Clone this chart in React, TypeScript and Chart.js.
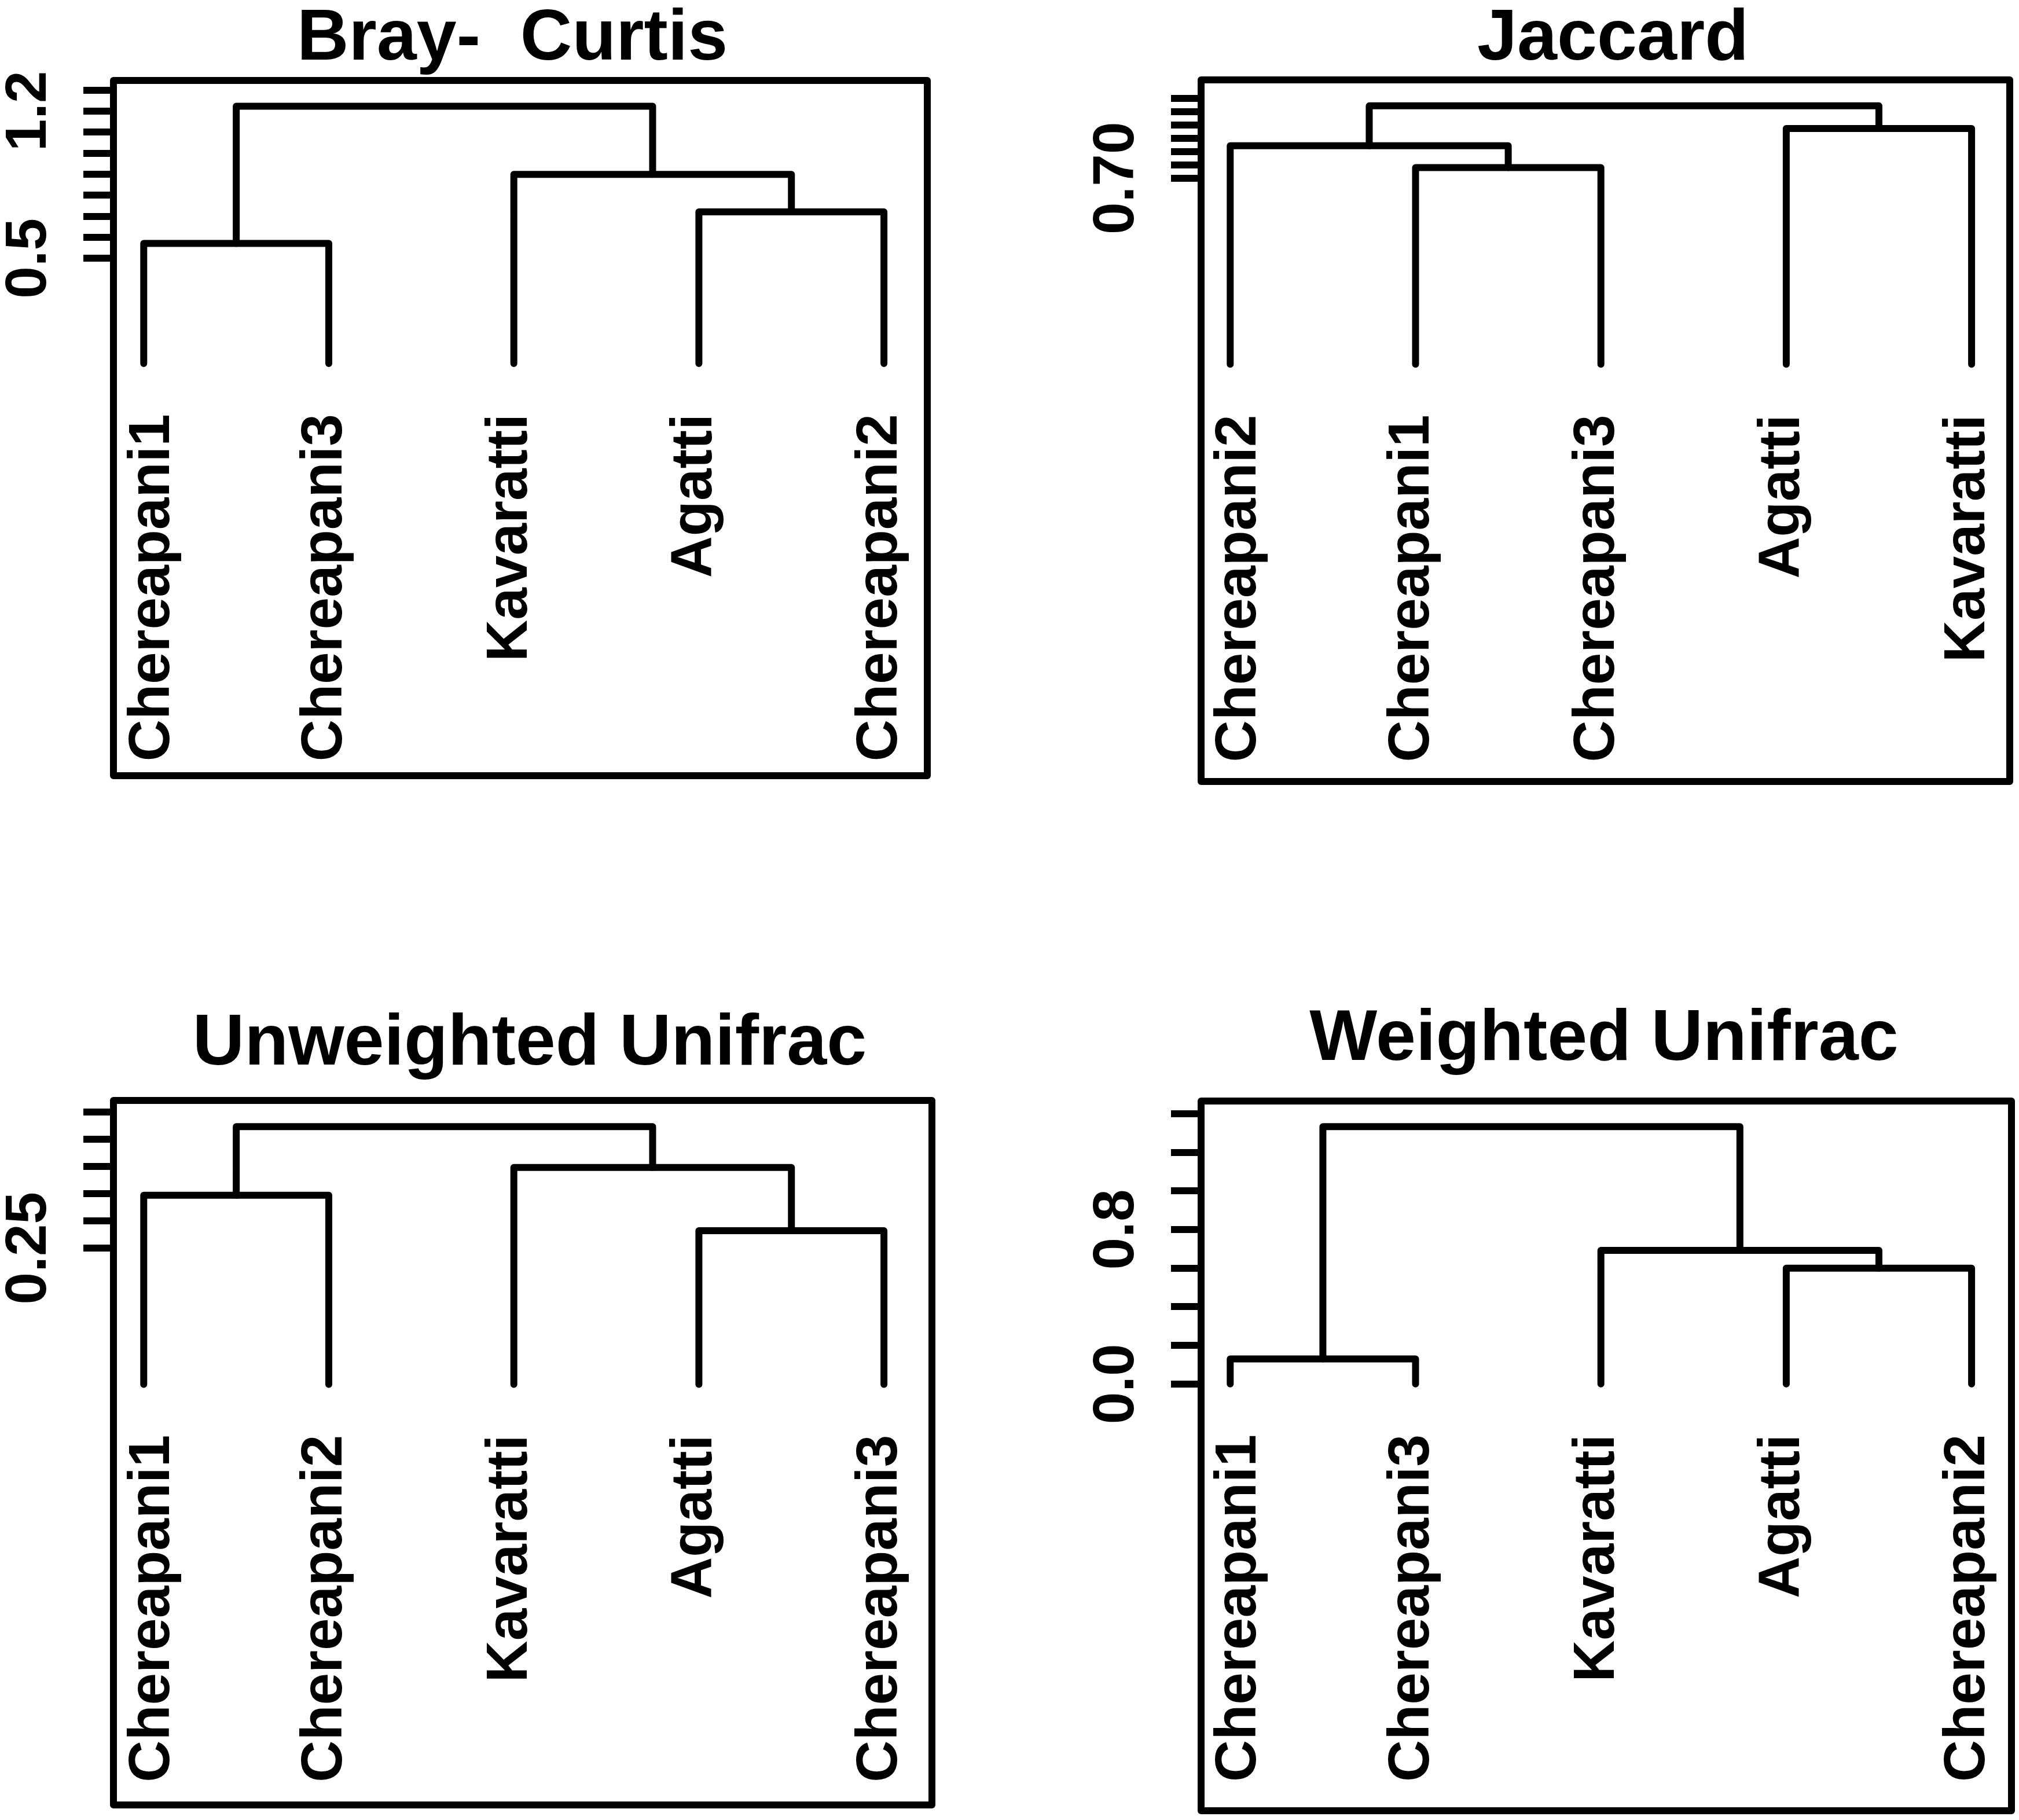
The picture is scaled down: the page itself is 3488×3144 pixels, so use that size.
import React, { useEffect, useRef } from "react";
import { Chart, registerables } from "chart.js";

Chart.register(...registerables);

// ---------------- data ----------------
// leaves in plotted order; merges: negative = leaf position (1-based), positive = earlier merge (1-based)
const bcLeaves = ["Chereapani1", "Chereapani3", "Kavaratti", "Agatti", "Chereapani2"];
const bcMerges = [[-1, -2], [-4, -5], [-3, 2], [1, 3]];
const bcHeights = [0.571, 0.721, 0.899, 1.223];
const bcTicks = [0.5, 0.6, 0.7, 0.8, 0.9, 1.0, 1.1, 1.2, 1.3];
const bcTickLabels = ["0.5", "", "", "", "", "", "", "1.2", ""];

const jcLeaves = ["Chereapani2", "Chereapani1", "Chereapani3", "Agatti", "Kavaratti"];
const jcMerges = [[-2, -3], [-1, 1], [-4, -5], [2, 3]];
const jcHeights = [0.74, 0.822, 0.887, 0.972];
const jcTicks = [0.7, 0.75, 0.8, 0.85, 0.9, 0.95, 1.0];
const jcTickLabels = ["0.70", "", "", "", "", "", ""];

const uuLeaves = ["Chereapani1", "Chereapani2", "Kavaratti", "Agatti", "Chereapani3"];
const uuMerges = [[-4, -5], [-1, -2], [-3, 1], [2, 3]];
const uuHeights = [0.282, 0.347, 0.398, 0.473];
const uuTicks = [0.25, 0.3, 0.35, 0.4, 0.45, 0.5];
const uuTickLabels = ["0.25", "", "", "", "", ""];

const wuLeaves = ["Chereapani1", "Chereapani3", "Kavaratti", "Agatti", "Chereapani2"];
const wuMerges = [[-1, -2], [-4, -5], [-3, 2], [1, 3]];
const wuHeights = [0.13, 0.6, 0.692, 1.333];
const wuTicks = [0.0, 0.2, 0.4, 0.6, 0.8, 1.0, 1.2, 1.4];
const wuTickLabels = ["0.0", "", "", "", "0.8", "", "", ""];

// ---------------- layout / style ----------------
const CELL_W = 1744;
const CELL_H = 1572;
const AXW = 60;
const LINE_W = 12;
const BOX_W = 12;
const TICK_LEN = 52;
const FONT = '"Liberation Sans", Arial, Helvetica, sans-serif';
const LABEL_PX = 100;
const TITLE_PX = 124;
const LABEL_DROP = 87; // label end below zero line
const LABEL_BASE = 22; // baseline offset right of leaf
const FIRST_SHIFT = 22;
const TICKLABEL_GAP = 117.5;

const PANELS = [
  {
    title: "Bray-  Curtis", leaves: bcLeaves, merges: bcMerges, heights: bcHeights,
    ticks: bcTicks, tickLabels: bcTickLabels,
    cellX: 0, cellY: 0, box: { l: 196, t: 139, r: 1602, b: 1340 },
    xr: [0.8364, 5.2343], yr: [-1.9586, 1.3454], titleDx: -14, titleBase: 103,
  },
  {
    title: "Jaccard", leaves: jcLeaves, merges: jcMerges, heights: jcHeights,
    ticks: jcTicks, tickLabels: jcTickLabels,
    cellX: 1744, cellY: 0, box: { l: 2075, t: 138, r: 3472, b: 1350 },
    xr: [0.8429, 5.2058], yr: [-1.5691, 1.0697], titleDx: 13, titleBase: 103,
  },
  {
    title: "Unweighted Unifrac", leaves: uuLeaves, merges: uuMerges, heights: uuHeights,
    ticks: uuTicks, tickLabels: uuTickLabels,
    cellX: 0, cellY: 1572, box: { l: 196, t: 1901, r: 1610, b: 3118 },
    xr: [0.8364, 5.2593], yr: [-0.7715, 0.521], titleDx: 12, titleBase: 1839,
  },
  {
    title: "Weighted Unifrac", leaves: wuLeaves, merges: wuMerges, heights: wuHeights,
    ticks: wuTicks, tickLabels: wuTickLabels,
    cellX: 1744, cellY: 1572, box: { l: 2075, t: 1902, r: 3475, b: 3128 },
    xr: [0.8429, 5.2152], yr: [-2.2105, 1.4657], titleDx: -4, titleBase: 1831,
  },
];

type Pt = { x: number; y: number };

function dendroSegments(merges: number[][], heights: number[]): Pt[][] {
  const nodes: Pt[] = [];
  const ref = (r: number): Pt => (r < 0 ? { x: -r, y: 0 } : nodes[r - 1]);
  return merges.map(([a, b], i) => {
    const A = ref(a);
    const B = ref(b);
    const h = heights[i];
    nodes[i] = { x: (A.x + B.x) / 2, y: h };
    return [
      { x: A.x, y: A.y },
      { x: A.x, y: h },
      { x: B.x, y: h },
      { x: B.x, y: B.y },
    ];
  });
}

function makeConfig(p: any): any {
  const segs = dendroSegments(p.merges, p.heights);
  const bl = p.box.l - p.cellX;
  const bt = p.box.t - p.cellY;
  const br = p.box.r - p.cellX;
  const bb = p.box.b - p.cellY;

  const decor = {
    id: "dendroDecor",
    afterDraw(chart: any) {
      const ctx = chart.ctx;
      const area = chart.chartArea;
      const xs = chart.scales.x;
      const ys = chart.scales.y;
      ctx.save();
      // frame
      ctx.strokeStyle = "#000";
      ctx.lineWidth = BOX_W;
      ctx.lineJoin = "round";
      ctx.strokeRect(area.left, area.top, area.right - area.left, area.bottom - area.top);
      ctx.fillStyle = "#000";
      // title
      ctx.font = `bold ${TITLE_PX}px ${FONT}`;
      ctx.textAlign = "center";
      ctx.textBaseline = "alphabetic";
      ctx.fillText(p.title, (area.left + area.right) / 2 + p.titleDx, p.titleBase - p.cellY);
      // leaf labels
      ctx.font = `bold ${LABEL_PX}px ${FONT}`;
      const y0 = ys.getPixelForValue(0) + LABEL_DROP;
      p.leaves.forEach((lab: string, i: number) => {
        const px = xs.getPixelForValue(i + 1) + LABEL_BASE + (i === 0 ? FIRST_SHIFT : 0);
        ctx.save();
        ctx.translate(px, y0);
        ctx.rotate(-Math.PI / 2);
        ctx.textAlign = "right";
        ctx.textBaseline = "alphabetic";
        ctx.fillText(lab, 0, 0);
        ctx.restore();
      });
      // y tick labels
      p.ticks.forEach((v: number, i: number) => {
        const t = p.tickLabels[i];
        if (!t) return;
        const py = ys.getPixelForValue(v);
        ctx.save();
        ctx.translate(area.left - TICKLABEL_GAP, py);
        ctx.rotate(-Math.PI / 2);
        ctx.textAlign = "center";
        ctx.textBaseline = "alphabetic";
        ctx.fillText(t, 0, 0);
        ctx.restore();
      });
      ctx.restore();
    },
  };

  return {
    type: "line",
    data: {
      datasets: segs.map((s) => ({
        data: s,
        borderColor: "#000",
        borderWidth: LINE_W,
        pointRadius: 0,
        pointHoverRadius: 0,
        fill: false,
        tension: 0,
        borderCapStyle: "round",
        borderJoinStyle: "round",
      })),
    },
    options: {
      animation: false,
      responsive: false,
      maintainAspectRatio: false,
      events: [],
      layout: {
        padding: { left: bl - AXW, top: bt, right: CELL_W - br, bottom: CELL_H - bb },
      },
      plugins: {
        legend: { display: false },
        tooltip: { enabled: false },
        title: { display: false },
      },
      scales: {
        x: { type: "linear", display: false, min: p.xr[0], max: p.xr[1] },
        y: {
          type: "linear",
          min: p.yr[0],
          max: p.yr[1],
          afterBuildTicks: (s: any) => {
            s.ticks = p.ticks.map((v: number) => ({ value: v }));
          },
          afterFit: (s: any) => {
            s.width = AXW;
          },
          ticks: { display: false, autoSkip: false },
          grid: {
            display: true,
            drawOnChartArea: false,
            drawTicks: true,
            tickLength: TICK_LEN,
            lineWidth: LINE_W,
            color: "#000",
          },
          border: { display: false },
        },
      },
    },
    plugins: [decor],
  };
}

function DendroPanel({ panel }: { panel: any }) {
  const ref = useRef<HTMLCanvasElement>(null);
  useEffect(() => {
    const chart = new Chart(ref.current as HTMLCanvasElement, makeConfig(panel));
    return () => chart.destroy();
  }, [panel]);
  return (
    <canvas
      ref={ref}
      width={CELL_W}
      height={CELL_H}
      style={{ position: "absolute", left: panel.cellX, top: panel.cellY, width: CELL_W, height: CELL_H }}
    />
  );
}

export default function App() {
  return (
    <div style={{ position: "absolute", left: 0, top: 0, width: 3488, height: 3144, background: "#fff" }}>
      {PANELS.map((p) => (
        <DendroPanel key={p.title} panel={p} />
      ))}
    </div>
  );
}
